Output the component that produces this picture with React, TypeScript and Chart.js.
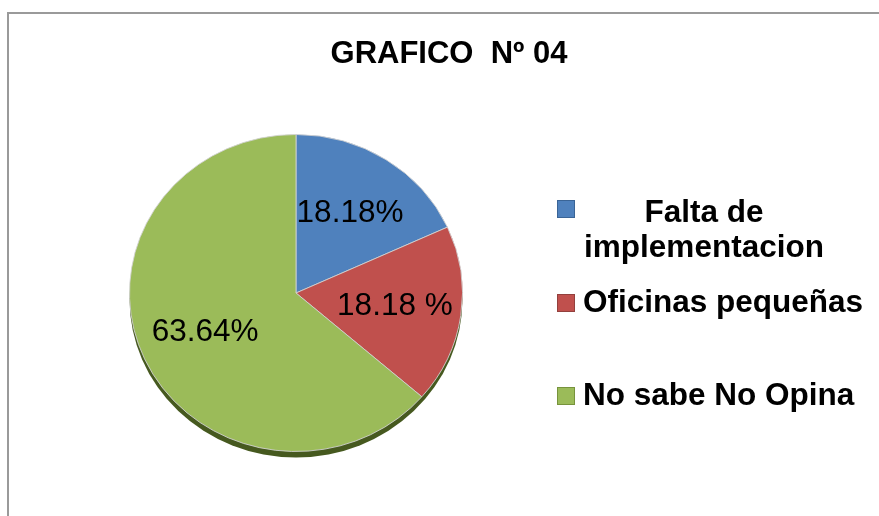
import React, { useEffect, useRef } from "react";
import { Chart, registerables } from "chart.js";

Chart.register(...registerables);

const TITLE = "GRAFICO  Nº 04";
const categories = ["Falta de implementacion", "Oficinas pequeñas", "No sabe No Opina"];
const legendLines = [["Falta de", "implementacion"], ["Oficinas pequeñas"], ["No sabe No Opina"]];
const values = [18.18, 18.18, 63.64];
const valueLabels = ["18.18%", "18.18 %", "63.64%"];
const colors = ["#4F81BD", "#C0504D", "#9BBB59"];
const boxBorders = ["#3A6496", "#93403D", "#77933C"];

const FONT = '"Liberation Sans", Arial, Helvetica, sans-serif';
const SQUASH = 0.952;

const decorPlugin = {
  id: "decor",
  beforeDraw(chart: any) {
    const ctx = chart.ctx as CanvasRenderingContext2D;
    ctx.save();
    ctx.fillStyle = "#ffffff";
    ctx.fillRect(0, 0, chart.width, chart.height);
    // frame
    ctx.strokeStyle = "#9a9a9a";
    ctx.lineWidth = 2;
    ctx.beginPath();
    ctx.moveTo(8, chart.height + 2);
    ctx.lineTo(8, 13);
    ctx.lineTo(chart.width + 2, 13);
    ctx.stroke();
    // title
    ctx.fillStyle = "#000000";
    ctx.font = `bold 31px ${FONT}`;
    ctx.textAlign = "center";
    ctx.textBaseline = "alphabetic";
    ctx.fillText(TITLE, 449, 63);
    // legend
    const boxX = 557;
    const boxYs = [200, 294, 387];
    ctx.font = `bold 31.5px ${FONT}`;
    categories.forEach((_, i) => {
      ctx.fillStyle = colors[i];
      ctx.fillRect(boxX, boxYs[i], 18, 18);
      ctx.strokeStyle = boxBorders[i];
      ctx.lineWidth = 1;
      ctx.strokeRect(boxX + 0.5, boxYs[i] + 0.5, 17, 17);
      ctx.fillStyle = "#000000";
      const lines = legendLines[i];
      if (lines.length > 1) {
        ctx.textAlign = "center";
        lines.forEach((ln, j) => ctx.fillText(ln, 704, 222 + j * 35));
      } else {
        ctx.textAlign = "left";
        ctx.fillText(lines[0], 583, boxYs[i] + 18);
      }
    });
    ctx.restore();
  },
  beforeDatasetsDraw(chart: any) {
    const ctx = chart.ctx as CanvasRenderingContext2D;
    const arc = chart.getDatasetMeta(0).data[0] as any;
    const { x, y, outerRadius } = arc.getProps(["x", "y", "outerRadius"], true);
    ctx.save();
    ctx.translate(x, y);
    ctx.scale(1, SQUASH);
    ctx.translate(-x, -y);
    // 3D rim / shadow
    ctx.beginPath();
    ctx.arc(x, y + 6 / SQUASH, outerRadius, 0, Math.PI * 2);
    ctx.fillStyle = "#46591F";
    ctx.fill();
  },
  afterDatasetsDraw(chart: any) {
    const ctx = chart.ctx as CanvasRenderingContext2D;
    ctx.restore();
    ctx.save();
    ctx.fillStyle = "#000000";
    ctx.font = `31.5px ${FONT}`;
    ctx.textAlign = "center";
    ctx.textBaseline = "middle";
    chart.getDatasetMeta(0).data.forEach((el: any, i: number) => {
      const { x, y, startAngle, endAngle, outerRadius } = el.getProps(
        ["x", "y", "startAngle", "endAngle", "outerRadius"],
        true
      );
      const mid = (startAngle + endAngle) / 2;
      const r = outerRadius * 0.6;
      const lx = x + Math.cos(mid) * r;
      const ly = y + Math.sin(mid) * r * SQUASH;
      ctx.fillText(valueLabels[i], lx, ly);
    });
    ctx.restore();
  },
};

export default function App() {
  const canvasRef = useRef<HTMLCanvasElement | null>(null);

  useEffect(() => {
    if (!canvasRef.current) return;
    const chart = new Chart(canvasRef.current, {
      type: "pie",
      data: {
        labels: categories,
        datasets: [
          {
            data: values,
            backgroundColor: colors,
            borderColor: "rgba(210,210,210,0.9)",
            borderWidth: 1,
            hoverOffset: 0,
            offset: 0,
            clip: false as any,
          },
        ],
      },
      options: {
        animation: false,
        responsive: false,
        maintainAspectRatio: false,
        events: [],
        layout: { padding: { left: 129, right: 416, top: 126, bottom: 56 } },
        plugins: {
          legend: { display: false },
          title: { display: false },
          tooltip: { enabled: false },
        },
      },
      plugins: [decorPlugin],
    });
    return () => chart.destroy();
  }, []);

  return (
    <div style={{ position: "fixed", left: 0, top: 0, width: 879, height: 516, background: "#fff" }}>
      <canvas ref={canvasRef} width={879} height={516} style={{ width: 879, height: 516, display: "block" }} />
    </div>
  );
}
